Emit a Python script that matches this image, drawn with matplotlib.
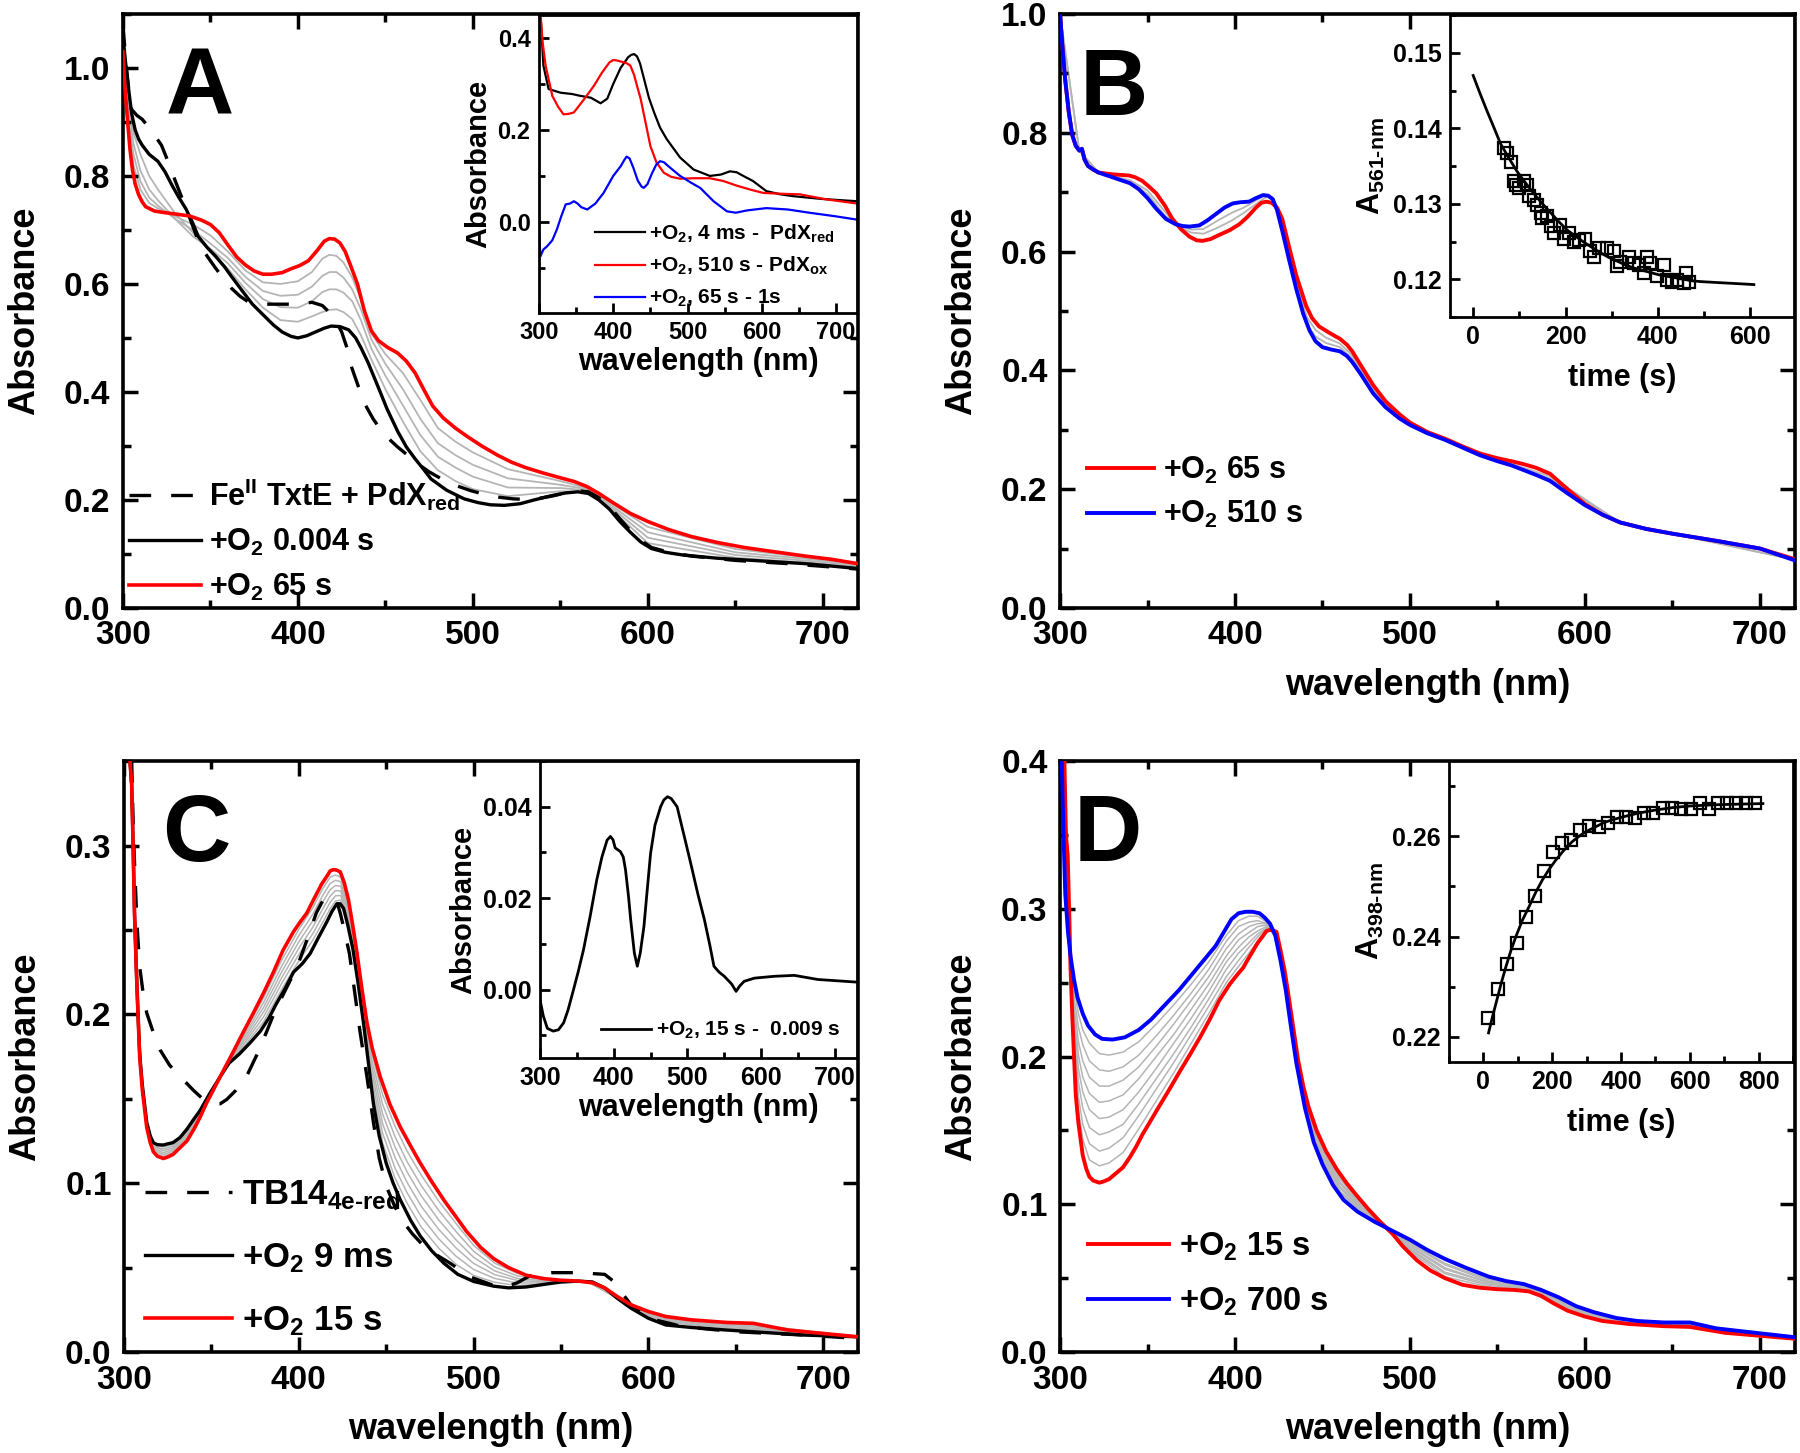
import numpy as np
import matplotlib.pyplot as plt
from matplotlib.ticker import MultipleLocator

plt.rcParams['font.family'] = ['Liberation Sans', 'DejaVu Sans']
plt.rcParams['font.weight'] = 'bold'
plt.rcParams['axes.labelweight'] = 'bold'
plt.rcParams['mathtext.fontset'] = 'custom'
plt.rcParams['mathtext.rm'] = 'Liberation Sans:bold'
plt.rcParams['mathtext.it'] = 'Liberation Sans:bold'
plt.rcParams['mathtext.bf'] = 'Liberation Sans:bold'
plt.rcParams['mathtext.default'] = 'regular'

# ---------------- panel A ----------------
A_dash_wl = [300, 302, 304, 305, 308, 311, 316, 322, 326, 330, 334, 338, 343, 348, 353, 358, 362, 367, 372, 381, 390,
             400, 408, 414, 419, 422, 425, 428, 430, 434, 438, 443, 448, 453, 457, 463, 468, 475, 482, 490, 499, 507,
             515, 523, 530, 538, 545, 553, 560, 566, 572, 578, 584, 590, 596, 602, 612, 625, 650, 680, 720]
A_dash = [1.08, 1.0, 0.94, 0.923, 0.912, 0.905, 0.885, 0.857, 0.825, 0.79, 0.757, 0.724, 0.68, 0.652, 0.629, 0.608,
          0.592, 0.577, 0.566, 0.5625, 0.5625, 0.5625, 0.566, 0.56, 0.544, 0.53, 0.511, 0.482, 0.452, 0.415, 0.379,
          0.35, 0.327, 0.31, 0.298, 0.282, 0.268, 0.252, 0.239, 0.227, 0.217, 0.21, 0.205, 0.202, 0.201, 0.203, 0.207,
          0.213, 0.217, 0.215, 0.204, 0.188, 0.165, 0.143, 0.125, 0.112, 0.103, 0.096, 0.088, 0.082, 0.072]
A_black_wl = [300, 301.5, 303, 305, 307, 309, 311, 315, 320, 324, 328, 332, 336, 340, 343, 348, 353, 358, 362, 368, 374,
              381, 386, 391, 396, 400, 405, 410, 415, 419, 424, 429, 433, 436, 440, 446, 451, 457, 462, 467, 472, 476,
              485, 495, 503, 510, 518, 527, 535, 545, 553, 560, 566, 572, 578, 584, 590, 596, 602, 610, 620, 640, 660,
              690, 720]
A_black = [1.06, 1.01, 0.967, 0.915, 0.885, 0.868, 0.857, 0.84, 0.827, 0.808, 0.783, 0.76, 0.739, 0.712, 0.688, 0.668,
           0.651, 0.632, 0.614, 0.588, 0.5625, 0.54, 0.524, 0.511, 0.503, 0.5, 0.504, 0.511, 0.518, 0.522, 0.521, 0.515,
           0.5, 0.482, 0.455, 0.408, 0.368, 0.327, 0.298, 0.276, 0.256, 0.239, 0.218, 0.202, 0.195, 0.191, 0.19, 0.193,
           0.2, 0.208, 0.213, 0.215, 0.212, 0.2, 0.183, 0.16, 0.14, 0.122, 0.11, 0.103, 0.098, 0.092, 0.088, 0.082,
           0.073]
A_red_wl = [300, 301, 302.5, 304, 305.5, 307, 309, 311, 313, 318, 324, 331, 338, 345, 350, 355, 360, 365, 370, 375, 380,
            385, 391, 396, 401, 406, 411, 415, 418, 421, 424, 427, 430, 434, 438, 442, 446, 451, 457, 462, 467, 472,
            477, 483, 490, 497, 505, 514, 522, 530, 540, 550, 558, 565, 572, 580, 590, 600, 612, 625, 640, 655, 670,
            690, 705, 720]
A_red = [1.03, 0.97, 0.908, 0.85, 0.81, 0.785, 0.765, 0.752, 0.743, 0.735, 0.732, 0.729, 0.726, 0.718, 0.71, 0.695,
         0.672, 0.65, 0.635, 0.624, 0.618, 0.618, 0.621, 0.628, 0.634, 0.643, 0.662, 0.679, 0.684, 0.683, 0.676, 0.66,
         0.635, 0.6, 0.55, 0.513, 0.495, 0.483, 0.472, 0.457, 0.435, 0.404, 0.374, 0.352, 0.333, 0.317, 0.3, 0.283,
         0.27, 0.26, 0.25, 0.241, 0.234, 0.225, 0.212, 0.195, 0.175, 0.16, 0.145, 0.132, 0.121, 0.112, 0.105, 0.096,
         0.09, 0.082]
# intermediate traces, one row per wavelength (4 traces)
A_grey_wl = [300, 303, 306, 310, 315, 320, 330, 340, 350, 360, 370, 380, 390, 400, 408, 414, 418, 422, 426, 431, 436,
             442, 450, 460, 470, 480, 490, 500, 520, 550, 565, 580, 600, 650, 700, 720]
A_grey_rows = [
    [1.05, 1.045, 1.04, 1.035], [0.95, 0.93, 0.91, 0.895], [0.88, 0.86, 0.84, 0.82], [0.84, 0.81, 0.79, 0.775],
    [0.8, 0.775, 0.76, 0.75], [0.775, 0.755, 0.745, 0.74], [0.73, 0.72, 0.72, 0.725], [0.695, 0.688, 0.7, 0.71],
    [0.66, 0.665, 0.675, 0.69], [0.628, 0.638, 0.648, 0.66], [0.59, 0.602, 0.613, 0.625], [0.556, 0.572, 0.587, 0.603],
    [0.533, 0.557, 0.578, 0.6], [0.53, 0.556, 0.58, 0.605], [0.54, 0.568, 0.595, 0.622], [0.548, 0.585, 0.615, 0.647],
    [0.552, 0.59, 0.622, 0.654], [0.553, 0.59, 0.622, 0.652], [0.548, 0.584, 0.612, 0.64], [0.535, 0.568, 0.59, 0.612],
    [0.505, 0.533, 0.553, 0.572], [0.46, 0.48, 0.497, 0.508], [0.405, 0.43, 0.452, 0.47], [0.345, 0.375, 0.405, 0.435],
    [0.29, 0.32, 0.35, 0.385], [0.255, 0.28, 0.305, 0.333], [0.235, 0.26, 0.283, 0.308], [0.22, 0.243, 0.265, 0.288],
    [0.207, 0.223, 0.24, 0.257], [0.216, 0.222, 0.228, 0.235], [0.215, 0.218, 0.22, 0.222], [0.18, 0.184, 0.188, 0.192],
    [0.12, 0.13, 0.14, 0.15], [0.093, 0.098, 0.103, 0.109], [0.082, 0.085, 0.088, 0.09], [0.075, 0.077, 0.079, 0.08],
]
# inset A (difference spectra)
Ai_black_wl = [300, 302, 306, 313, 329, 345, 356, 370, 383, 392, 400, 410, 420, 424, 428, 432, 436, 440, 448, 455, 463,
               472, 490, 508, 530, 545, 557, 566, 575, 588, 606, 625, 642, 680, 728]
Ai_black = [0.5, 0.456, 0.34, 0.289, 0.281, 0.278, 0.274, 0.27, 0.258, 0.268, 0.3, 0.335, 0.358, 0.363, 0.365, 0.36,
            0.345, 0.32, 0.27, 0.238, 0.205, 0.18, 0.14, 0.114, 0.1, 0.103, 0.11, 0.108, 0.1, 0.089, 0.067, 0.06, 0.056,
            0.05, 0.045]
Ai_red_wl = [300, 302, 305, 309, 318, 326, 333, 340, 347, 360, 374, 385, 395, 400, 405, 412, 418, 423, 428, 433, 437,
             443, 450, 458, 468, 478, 490, 510, 530, 548, 566, 585, 602, 630, 651, 687, 728]
Ai_red = [0.5, 0.456, 0.39, 0.34, 0.274, 0.25, 0.234, 0.235, 0.238, 0.265, 0.296, 0.325, 0.347, 0.352, 0.351, 0.348,
          0.345, 0.34, 0.32, 0.29, 0.267, 0.22, 0.165, 0.13, 0.107, 0.098, 0.094, 0.095, 0.095, 0.089, 0.079, 0.07,
          0.063, 0.061, 0.06, 0.049, 0.04]
Ai_blue_wl = [300, 302, 306, 311, 318, 324, 330, 336, 342, 347, 352, 357, 365, 376, 387, 400, 410, 415, 418, 422, 427,
              433, 438, 441, 446, 452, 458, 463, 468, 475, 490, 505, 517, 535, 553, 565, 580, 606, 635, 664, 700, 728]
Ai_blue = [-0.017, -0.075, -0.06, -0.053, -0.04, -0.017, 0.012, 0.038, 0.04, 0.045, 0.04, 0.032, 0.027, 0.04, 0.063,
           0.1, 0.121, 0.135, 0.142, 0.138, 0.118, 0.09, 0.077, 0.074, 0.082, 0.105, 0.125, 0.132, 0.13, 0.12, 0.1,
           0.085, 0.074, 0.045, 0.023, 0.02, 0.025, 0.03, 0.027, 0.02, 0.012, 0.005]

# ---------------- panel B ----------------
B_red_wl = [300, 301.5, 303, 305, 307, 309, 311, 312.5, 314, 316, 319, 322, 330, 339.5, 343, 347, 351, 355, 360, 364,
            369, 374, 378, 381.5, 386, 391, 397, 402.5, 407, 412, 415, 418, 421, 424, 427, 431, 435, 440.6, 444, 448,
            454, 460, 464, 467, 472, 479, 486, 494, 500, 510, 520, 530, 540, 550, 558, 565, 572, 580, 590, 600, 610,
            620, 635, 650, 675, 700, 720]
B_red = [1.0, 0.94, 0.888, 0.835, 0.796, 0.778, 0.77, 0.773, 0.755, 0.744, 0.738, 0.733, 0.73, 0.728, 0.725, 0.719,
         0.709, 0.698, 0.677, 0.656, 0.638, 0.625, 0.619, 0.618, 0.621, 0.628, 0.636, 0.646, 0.658, 0.674, 0.682,
         0.684, 0.682, 0.674, 0.655, 0.607, 0.56, 0.509, 0.488, 0.474, 0.463, 0.453, 0.443, 0.432, 0.408, 0.375,
         0.348, 0.326, 0.312, 0.296, 0.285, 0.272, 0.26, 0.252, 0.247, 0.242, 0.236, 0.226, 0.2, 0.175, 0.157, 0.144,
         0.133, 0.125, 0.113, 0.1, 0.082]
B_blue_wl = [300, 301.5, 303, 305, 307, 309, 311, 312.5, 314, 316, 319, 322, 330, 340, 345, 350, 355, 360.5, 366, 370,
             374, 379.6, 384, 389, 394, 398.7, 403, 408, 412, 416, 419, 421.6, 424, 427, 431, 435, 439, 442.6, 446, 450,
             455, 460, 464, 467, 472, 479, 486, 494, 500, 510, 520, 530, 540, 550, 558, 565, 572, 580, 590, 600, 610,
             620, 635, 650, 675, 700, 720]
B_blue = [1.0, 0.94, 0.888, 0.835, 0.796, 0.778, 0.77, 0.773, 0.755, 0.744, 0.738, 0.733, 0.725, 0.715, 0.705, 0.69,
          0.672, 0.655, 0.646, 0.643, 0.642, 0.644, 0.652, 0.663, 0.674, 0.681, 0.683, 0.684, 0.69, 0.695, 0.694,
          0.688, 0.67, 0.635, 0.585, 0.537, 0.495, 0.467, 0.449, 0.439, 0.435, 0.432, 0.424, 0.414, 0.393, 0.361,
          0.338, 0.319, 0.308, 0.294, 0.283, 0.27, 0.257, 0.247, 0.24, 0.232, 0.224, 0.214, 0.193, 0.173, 0.157,
          0.144, 0.133, 0.125, 0.113, 0.1, 0.08]
B_grey_wl = [300, 311, 322, 340, 350, 360, 368, 375, 382, 390, 398, 405, 412, 418, 422, 426, 431, 436, 441, 446, 452,
             460, 467, 475, 485, 500, 540, 580, 620, 720]
B_grey_rows = [
    [1.0, 1.0], [0.77, 0.77], [0.733, 0.733], [0.72, 0.718], [0.703, 0.697], [0.667, 0.66], [0.641, 0.643],
    [0.632, 0.637], [0.63, 0.638], [0.64, 0.652], [0.652, 0.665], [0.665, 0.674], [0.68, 0.686], [0.692, 0.696],
    [0.688, 0.69], [0.655, 0.65], [0.598, 0.592], [0.54, 0.534], [0.49, 0.478], [0.468, 0.457], [0.455, 0.446],
    [0.445, 0.439], [0.425, 0.42], [0.387, 0.382], [0.348, 0.345], [0.31, 0.309], [0.259, 0.258], [0.222, 0.218],
    [0.144, 0.144], [0.081, 0.081],
]
# inset B kinetics at 561 nm
Bi_t = [66, 74, 81, 88, 92, 99, 110, 117, 120, 131, 139, 146, 150, 160, 168, 175, 189, 196, 207, 218, 229, 243, 254,
        261, 272, 290, 305, 312, 319, 337, 348, 359, 370, 377, 384, 399, 413, 420, 431, 442, 456, 460, 467]
Bi_A = [0.1374, 0.1367, 0.1355, 0.133, 0.1325, 0.1321, 0.133, 0.1325, 0.131, 0.1305, 0.1299, 0.1288, 0.1281, 0.1284,
        0.127, 0.1261, 0.1272, 0.1254, 0.1261, 0.125, 0.1252, 0.1254, 0.1237, 0.123, 0.1241, 0.1241, 0.1237, 0.1217,
        0.1223, 0.123, 0.1221, 0.1219, 0.1208, 0.123, 0.1221, 0.1204, 0.1219, 0.1199, 0.1196, 0.1199, 0.1195, 0.1208,
        0.1197]
Bi_fit_t = [0, 15, 30, 45, 59, 77, 95, 113, 131, 150, 168, 186, 204, 222, 240, 258, 276, 294, 312, 330, 348, 366, 384,
            402, 420, 438, 456, 474, 492, 520, 550, 580, 608]
Bi_fit = [0.147, 0.1446, 0.1423, 0.1401, 0.138, 0.1361, 0.1343, 0.1328, 0.1314, 0.13, 0.1288, 0.1276, 0.1265, 0.1257,
          0.1249, 0.1242, 0.1235, 0.1229, 0.1224, 0.1219, 0.1215, 0.1212, 0.1209, 0.1206, 0.1204, 0.1202, 0.12,
          0.1198, 0.1197, 0.1196, 0.1195, 0.1194, 0.1193]

# ---------------- panel C ----------------
C_black_wl = [303.4, 304.4, 305.3, 306, 307, 308, 309, 310.5, 313, 315, 316.8, 319, 322.5, 325, 328, 332, 336, 340,
              343.5, 349, 355, 360, 366, 372, 378, 383, 387, 392, 397, 402, 406.5, 411, 416, 419, 421.8, 423.7, 425.6,
              428, 431, 434, 437, 440, 442.7, 446, 450, 454, 458, 464, 469.5, 476, 483, 491, 500, 511.5, 520, 530, 540,
              550, 560, 568, 575, 582, 590, 600, 610, 625, 645, 660, 690, 720]
C_black = [0.35, 0.336, 0.295, 0.26, 0.228, 0.2, 0.176, 0.158, 0.136, 0.128, 0.124, 0.1228, 0.1226, 0.1233, 0.124,
           0.127, 0.132, 0.138, 0.143, 0.153, 0.163, 0.171, 0.1765, 0.183, 0.19, 0.198, 0.206, 0.215, 0.225, 0.23,
           0.236, 0.245, 0.2547, 0.261, 0.2655, 0.2655, 0.2628, 0.253, 0.2385, 0.218, 0.195, 0.17, 0.147, 0.128,
           0.1119, 0.1, 0.0903, 0.078, 0.0687, 0.06, 0.0526, 0.046, 0.0418, 0.039, 0.038, 0.0385, 0.04, 0.0415, 0.042,
           0.0415, 0.038, 0.032, 0.026, 0.02, 0.016, 0.0145, 0.013, 0.012, 0.01, 0.009]
C_red_wl = [303.4, 304.4, 305.3, 306, 307, 308, 309, 310.5, 313, 315, 316.8, 319, 322.5, 325, 328, 332, 336, 340,
            343.5, 347, 351, 356, 362.6, 368, 374, 380, 385.5, 391, 397, 401, 404.6, 407, 410, 413, 416, 418, 419.8,
            421.5, 423.7, 426, 428.4, 430.5, 433, 436, 439, 442, 446.6, 452, 458, 464, 469.5, 476, 483, 490, 496, 504,
            511.5, 520, 530, 540, 550, 560, 568, 575, 582, 590, 600, 610, 625, 645, 660, 680, 700, 720]
C_red = [0.35, 0.336, 0.295, 0.26, 0.228, 0.2, 0.174, 0.155, 0.133, 0.124, 0.1186, 0.116, 0.1146, 0.1155, 0.117,
         0.121, 0.125, 0.132, 0.139, 0.147, 0.155, 0.165, 0.178, 0.189, 0.2008, 0.213, 0.225, 0.238, 0.249, 0.255,
         0.26, 0.265, 0.271, 0.277, 0.2817, 0.285, 0.2857, 0.2855, 0.2844, 0.278, 0.268, 0.255, 0.2385, 0.216, 0.195,
         0.18, 0.163, 0.147, 0.1334, 0.122, 0.1119, 0.101, 0.09, 0.08, 0.0714, 0.062, 0.0553, 0.05, 0.0455, 0.0435,
         0.0425, 0.042, 0.041, 0.038, 0.033, 0.028, 0.024, 0.021, 0.019, 0.0175, 0.017, 0.013, 0.011, 0.009]
C_dash_wl = [304.4, 305.3, 306.3, 307.5, 309, 311, 313, 316.5, 320.6, 326, 332, 336, 339.7, 345, 351, 355, 358.8, 364,
             370, 376, 381.7, 386, 391, 396, 400.8, 405, 410, 413, 416, 419.8, 422, 423.7, 426, 429, 432, 435, 439,
             442.7, 446, 450, 455, 460, 465, 471, 478, 486.6, 498, 510, 518, 525, 532, 545, 560, 575, 580, 585, 590,
             600, 620, 650, 690, 720]
C_dash = [0.35, 0.31, 0.2817, 0.252, 0.228, 0.212, 0.2008, 0.19, 0.179, 0.17, 0.163, 0.159, 0.155, 0.15, 0.147, 0.147,
          0.1496, 0.155, 0.163, 0.176, 0.19, 0.201, 0.2116, 0.222, 0.233, 0.245, 0.26, 0.266, 0.2695, 0.2695, 0.266,
          0.26, 0.25, 0.2358, 0.213, 0.19, 0.163, 0.136, 0.115, 0.0984, 0.086, 0.0768, 0.07, 0.0633, 0.058, 0.0526,
          0.0445, 0.04, 0.0385, 0.041, 0.045, 0.047, 0.047, 0.046, 0.042, 0.035, 0.028, 0.02, 0.015, 0.012, 0.01,
          0.008]
C_grey_wl = [303.4, 305.3, 308, 310.5, 313, 316.8, 322.5, 328, 336, 343.5, 351, 360, 370, 380, 390, 400, 408, 414,
             418, 421, 424, 428, 432, 437, 442, 448, 455, 462, 470, 480, 490, 500, 512, 525, 545, 565, 580, 600, 630,
             660, 720]
C_grey_rows = [
    [0.35] * 6, [0.295] * 6, [0.2] * 6,
    [0.158, 0.157, 0.157, 0.156, 0.156, 0.155], [0.136, 0.135, 0.135, 0.134, 0.134, 0.133],
    [0.123, 0.122, 0.122, 0.121, 0.12, 0.119], [0.1215, 0.1203, 0.1192, 0.118, 0.1169, 0.1158],
    [0.123, 0.122, 0.121, 0.12, 0.119, 0.118], [0.131, 0.13, 0.129, 0.128, 0.127, 0.126],
    [0.1424, 0.1419, 0.1413, 0.1407, 0.1401, 0.1396], [0.156, 0.156, 0.1555, 0.1555, 0.155, 0.155],
    [0.1713, 0.1716, 0.1719, 0.1721, 0.1724, 0.1727], [0.1827, 0.1844, 0.1861, 0.1879, 0.1896, 0.1913],
    [0.1959, 0.1987, 0.2016, 0.2044, 0.2073, 0.2101], [0.2144, 0.2179, 0.2213, 0.2247, 0.2281, 0.2316],
    [0.2317, 0.2354, 0.2391, 0.2429, 0.2466, 0.2503], [0.2439, 0.2477, 0.2516, 0.2554, 0.2593, 0.2631],
    [0.255, 0.259, 0.263, 0.267, 0.271, 0.275], [0.2627, 0.2664, 0.2701, 0.2739, 0.2776, 0.2813],
    [0.2671, 0.2702, 0.2733, 0.2763, 0.2794, 0.2825], [0.2677, 0.2704, 0.2731, 0.2759, 0.2786, 0.2813],
    [0.2551, 0.2573, 0.2594, 0.2616, 0.2637, 0.2659], [0.2321, 0.2343, 0.2364, 0.2386, 0.2407, 0.2429],
    [0.1964, 0.1979, 0.1993, 0.2007, 0.2021, 0.2036], [0.1569, 0.1607, 0.1646, 0.1684, 0.1723, 0.1761],
    [0.1237, 0.1294, 0.1351, 0.1409, 0.1466, 0.1523], [0.1031, 0.1091, 0.1154, 0.1216, 0.1277, 0.1339],
    [0.0881, 0.0943, 0.1004, 0.1066, 0.1127, 0.1189], [0.0741, 0.0803, 0.0864, 0.0926, 0.0987, 0.1049],
    [0.0616, 0.0671, 0.0727, 0.0783, 0.0839, 0.0894], [0.0519, 0.0567, 0.0616, 0.0664, 0.0713, 0.0761],
    [0.0454, 0.0489, 0.0525, 0.0561, 0.0597, 0.0632], [0.0413, 0.0436, 0.0459, 0.0481, 0.0504, 0.0527],
    [0.0394, 0.0409, 0.0424, 0.0436, 0.0451, 0.0466], [0.0404, 0.0409, 0.0413, 0.0417, 0.0421, 0.0426],
    [0.042, 0.042, 0.042, 0.0418, 0.0417, 0.0416], [0.0331, 0.0333, 0.0334, 0.0336, 0.0337, 0.0339],
    [0.0206, 0.0211, 0.0217, 0.0223, 0.0229, 0.0234], [0.0146, 0.0153, 0.016, 0.0166, 0.0172, 0.0179],
    [0.0127, 0.0134, 0.0141, 0.0149, 0.0156, 0.0163], [0.009] * 6,
]
# inset C difference spectrum
Ci_wl = [300, 304.5, 310, 318, 325, 332, 338, 345.5, 352, 359, 368, 377, 384, 391, 395.5, 399, 402, 409, 413, 416,
         420, 423, 428, 432, 436, 441, 445, 450, 456, 463.6, 468, 473, 478, 486, 495, 504.5, 514, 523, 530, 536, 543,
         550, 560, 566, 571, 577, 591, 618, 645, 677, 732]
Ci_A = [-0.0022, -0.0058, -0.0085, -0.0091, -0.0088, -0.0073, -0.0045, 0.0, 0.004, 0.0087, 0.016, 0.024, 0.029,
        0.0327, 0.0335, 0.0328, 0.031, 0.0302, 0.029, 0.0262, 0.0205, 0.0153, 0.008, 0.0051, 0.008, 0.0138, 0.021,
        0.0298, 0.036, 0.04, 0.0415, 0.0422, 0.0418, 0.04, 0.034, 0.0276, 0.021, 0.0153, 0.01, 0.0051, 0.0038, 0.0029,
        0.0012, -0.0004, 0.0008, 0.0018, 0.0025, 0.0029, 0.0031, 0.0022, 0.0016]

# ---------------- panel D ----------------
D_red_wl = [301.5, 302.5, 303.4, 304.4, 305.3, 306, 307, 308, 309, 310.5, 313, 315, 316.8, 319, 322.5, 325, 328, 332,
            336, 340, 343.5, 347, 351, 356, 362.6, 368, 374, 380, 385.5, 391, 397, 401, 404.6, 407, 410, 413, 416,
            418, 419.8, 421.5, 423.7, 426, 428.4, 430.5, 433, 436, 439, 442, 446.6, 452, 458, 464, 469.5, 476, 483,
            490, 496, 504, 511.5, 520, 530, 540, 550, 560, 568, 575, 582, 590, 600, 610, 625, 645, 660, 680, 700, 720]
D_red = [0.45, 0.4, 0.35, 0.336, 0.295, 0.26, 0.228, 0.2, 0.174, 0.155, 0.133, 0.124, 0.1186, 0.116, 0.1146, 0.1155,
         0.117, 0.121, 0.125, 0.132, 0.139, 0.147, 0.155, 0.165, 0.178, 0.189, 0.2008, 0.213, 0.225, 0.238, 0.249,
         0.255, 0.26, 0.265, 0.271, 0.277, 0.2817, 0.285, 0.2857, 0.2855, 0.2844, 0.272, 0.258, 0.242, 0.222, 0.198,
         0.18, 0.166, 0.15, 0.136, 0.124, 0.114, 0.106, 0.097, 0.088, 0.08, 0.0714, 0.062, 0.0553, 0.05, 0.0455,
         0.0435, 0.0425, 0.042, 0.041, 0.038, 0.033, 0.028, 0.024, 0.021, 0.019, 0.0175, 0.017, 0.013, 0.011, 0.009]
D_blue_wl = [300, 301, 302, 303, 304.5, 306, 308, 310, 313, 316, 320, 324, 330, 337, 345, 352, 360, 368, 375, 382, 389,
             394, 398, 402, 406, 410, 414, 417, 420, 423, 426, 429, 432, 435, 440, 445, 450, 456, 462, 470, 480, 490,
             500, 510, 520, 532, 545, 555, 565, 575, 585, 595, 605, 618, 630, 645, 660, 675, 690, 705, 720]
D_blue = [0.44, 0.4, 0.35, 0.31, 0.285, 0.268, 0.252, 0.24, 0.229, 0.221, 0.215, 0.212, 0.2115, 0.213, 0.218, 0.225,
          0.235, 0.245, 0.255, 0.265, 0.275, 0.285, 0.293, 0.297, 0.298, 0.298, 0.297, 0.294, 0.29, 0.282, 0.265,
          0.245, 0.22, 0.196, 0.165, 0.142, 0.127, 0.113, 0.103, 0.095, 0.088, 0.082, 0.076, 0.069, 0.063, 0.057,
          0.051, 0.048, 0.046, 0.042, 0.037, 0.031, 0.027, 0.023, 0.021, 0.02, 0.02, 0.016, 0.014, 0.012, 0.01]
D_grey_wl = [301, 303, 305.3, 308, 310.5, 313, 316.8, 322.5, 328, 336, 345, 355, 365, 375, 385, 395, 402, 408, 413,
             418, 421, 424, 428, 432, 437, 442, 450, 460, 470, 485, 500, 520, 545, 565, 585, 605, 630, 660, 690, 720]
D_grey_rows = [
    [0.45] * 8,
    [0.363, 0.357, 0.35, 0.343, 0.337, 0.33, 0.323, 0.317], [0.293, 0.291, 0.289, 0.287, 0.284, 0.282, 0.28, 0.278],
    [0.206, 0.212, 0.217, 0.223, 0.229, 0.235, 0.24, 0.246], [0.164, 0.173, 0.183, 0.192, 0.201, 0.21, 0.22, 0.229],
    [0.144, 0.154, 0.165, 0.176, 0.186, 0.197, 0.208, 0.218], [0.13, 0.141, 0.152, 0.164, 0.175, 0.186, 0.197, 0.209],
    [0.126, 0.136, 0.147, 0.158, 0.169, 0.18, 0.191, 0.202], [0.128, 0.138, 0.149, 0.159, 0.17, 0.18, 0.19, 0.201],
    [0.135, 0.145, 0.154, 0.164, 0.174, 0.184, 0.193, 0.203], [0.151, 0.16, 0.168, 0.176, 0.185, 0.193, 0.201, 0.21],
    [0.17, 0.178, 0.185, 0.192, 0.2, 0.207, 0.214, 0.222], [0.189, 0.196, 0.202, 0.209, 0.215, 0.222, 0.228, 0.235],
    [0.209, 0.215, 0.22, 0.226, 0.232, 0.238, 0.243, 0.249], [0.229, 0.234, 0.239, 0.244, 0.249, 0.254, 0.259, 0.264],
    [0.25, 0.254, 0.259, 0.264, 0.268, 0.273, 0.278, 0.282], [0.261, 0.265, 0.27, 0.274, 0.279, 0.283, 0.288, 0.292],
    [0.27, 0.274, 0.277, 0.281, 0.284, 0.288, 0.291, 0.295], [0.278, 0.281, 0.283, 0.285, 0.288, 0.29, 0.292, 0.295],
    [0.286, 0.287, 0.287, 0.288, 0.289, 0.29, 0.29, 0.291],
    [0.2854, 0.2852, 0.285, 0.2849, 0.2847, 0.2845, 0.2843, 0.2842],
    [0.283, 0.282, 0.282, 0.281, 0.281, 0.28, 0.28, 0.279], [0.259, 0.258, 0.257, 0.256, 0.255, 0.254, 0.253, 0.253],
    [0.229, 0.228, 0.227, 0.226, 0.225, 0.224, 0.223, 0.222], [0.191, 0.19, 0.189, 0.188, 0.188, 0.187, 0.186, 0.185],
    [0.165, 0.164, 0.163, 0.162, 0.161, 0.16, 0.159, 0.158], [0.139, 0.137, 0.136, 0.134, 0.133, 0.131, 0.13, 0.128],
    [0.118, 0.117, 0.115, 0.114, 0.112, 0.111, 0.109, 0.108], [0.104, 0.103, 0.102, 0.101, 0.1, 0.099, 0.098, 0.097],
    [0.087, 0.087, 0.086, 0.086, 0.086, 0.086, 0.085, 0.085], [0.068, 0.069, 0.07, 0.071, 0.072, 0.073, 0.074, 0.075],
    [0.051, 0.053, 0.054, 0.056, 0.057, 0.059, 0.06, 0.062], [0.044, 0.045, 0.046, 0.047, 0.047, 0.048, 0.049, 0.05],
    [0.042, 0.0425, 0.043, 0.0435, 0.044, 0.0445, 0.045, 0.0455], [0.032, 0.032, 0.033, 0.034, 0.034, 0.035, 0.035, 0.036],
    [0.023, 0.0235, 0.024, 0.0245, 0.025, 0.0255, 0.026, 0.0265],
    [0.0188, 0.019, 0.0193, 0.0196, 0.0199, 0.0201, 0.0204, 0.0207],
    [0.0173, 0.0177, 0.018, 0.0183, 0.0187, 0.019, 0.0193, 0.0197],
    [0.012, 0.0125, 0.0127, 0.013, 0.0132, 0.0134, 0.0136, 0.0138], [0.0095] * 8,
]
# inset D kinetics at 398 nm
Di_t = [12.5, 41, 70, 97, 123, 150, 176, 202, 229, 255, 280, 306.5, 335, 362, 388, 415, 441, 468, 494, 521, 547.5, 574,
        603, 629, 656, 682, 709, 735, 762, 790]
Di_A = [0.2238, 0.2295, 0.2346, 0.2388, 0.2438, 0.2481, 0.2531, 0.2568, 0.2587, 0.2593, 0.2612, 0.262, 0.2619, 0.2627,
        0.2638, 0.2638, 0.2636, 0.2646, 0.2646, 0.2657, 0.2657, 0.2655, 0.2655, 0.2666, 0.2655, 0.2666, 0.2666,
        0.2666, 0.2666, 0.2666]
Di_fit_t = [15, 26, 37, 51, 65.5, 80, 94.5, 113, 133, 152, 171.6, 190, 210, 234, 258, 282, 306.5, 330, 350, 376, 403,
            450, 499, 550, 596, 650, 692, 750, 812.5]
Di_fit = [0.2208, 0.2239, 0.2268, 0.2305, 0.234, 0.2372, 0.24, 0.2432, 0.246, 0.2488, 0.2513, 0.2533, 0.2552, 0.2572,
          0.2589, 0.2602, 0.2612, 0.262, 0.2627, 0.2633, 0.2638, 0.2646, 0.2652, 0.2657, 0.266, 0.2662, 0.2663,
          0.2664, 0.2665]

GREY = '#b5b5b5'
DASH = (0, (6.5, 6.0))


def style(ax, xlim, ylim, xmaj, xmin, ymaj, ymin, lsize, inset=False):
    ax.set_xlim(*xlim)
    ax.set_ylim(*ylim)
    ax.xaxis.set_major_locator(MultipleLocator(xmaj))
    ax.xaxis.set_minor_locator(MultipleLocator(xmin))
    ax.yaxis.set_major_locator(MultipleLocator(ymaj))
    ax.yaxis.set_minor_locator(MultipleLocator(ymin))
    if inset:
        ax.tick_params(which='both', direction='in', width=2, labelsize=lsize, pad=6)
        ax.tick_params(which='major', length=7)
        ax.tick_params(which='minor', length=4)
    else:
        ax.tick_params(which='both', direction='in', top=True, right=True, width=2.5, labelsize=lsize, pad=9)
        ax.tick_params(which='major', length=11)
        ax.tick_params(which='minor', length=6)
    for s in ax.spines.values():
        s.set_linewidth(2 if inset else 2.6)


fig = plt.figure(figsize=(18, 14.53), dpi=100)

axA = fig.add_axes([0.0683, 0.5816, 0.4083, 0.4088])
axB = fig.add_axes([0.5889, 0.5816, 0.4083, 0.4088])
axC = fig.add_axes([0.0689, 0.0695, 0.4078, 0.4067])
axD = fig.add_axes([0.5889, 0.0695, 0.4083, 0.4067])

# ---- A ----
for g in np.array(A_grey_rows).T:
    axA.plot(A_grey_wl, g, color=GREY, lw=1.3, zorder=1)
axA.plot(A_dash_wl, A_dash, color='black', lw=2.4, ls=DASH, label='Fe$^{II}$ TxtE + PdX$_{red}$', zorder=3)
axA.plot(A_black_wl, A_black, color='black', lw=2.4, label='+O$_2$ 0.004 s', zorder=3)
axA.plot(A_red_wl, A_red, color='#ff0000', lw=2.6, label='+O$_2$ 65 s', zorder=4)
style(axA, (300, 720), (0, 1.1), 100, 50, 0.2, 0.1, 24)
axA.set_ylabel('Absorbance', fontsize=26, labelpad=16)
axA.legend(loc='lower left', bbox_to_anchor=(-0.008, -0.012), frameon=False, fontsize=22, handlelength=2.35,
           handletextpad=0.25, labelspacing=0.45, borderaxespad=0)
axA.text(0.058, 0.83, 'A', transform=axA.transAxes, fontsize=68, fontweight='bold')

iA = fig.add_axes([0.2994, 0.7846, 0.1767, 0.2051])
iA.plot(Ai_black_wl, Ai_black, color='black', lw=1.6, label='+O$_2$, 4 ms -  PdX$_{red}$')
iA.plot(Ai_red_wl, Ai_red, color='#ff0000', lw=1.6, label='+O$_2$, 510 s - PdX$_{ox}$')
iA.plot(Ai_blue_wl, Ai_blue, color='#0000ff', lw=1.6, label='+O$_2$, 65 s - 1s')
style(iA, (300, 728), (-0.198, 0.45), 100, 50, 0.2, 0.1, 17, inset=True)
iA.set_ylabel('Absorbance', fontsize=21, labelpad=4)
iA.set_xlabel('wavelength (nm)', fontsize=22, labelpad=2)
iA.legend(loc='lower right', bbox_to_anchor=(0.955, -0.015), frameon=False, fontsize=15, handlelength=2.4,
          handletextpad=0.2, labelspacing=0.5, borderaxespad=0)

# ---- B ----
for g in np.array(B_grey_rows).T:
    axB.plot(B_grey_wl, g, color=GREY, lw=1.3, zorder=1)
axB.plot(B_red_wl, B_red, color='#ff0000', lw=2.8, label='+O$_2$ 65 s', zorder=3)
axB.plot(B_blue_wl, B_blue, color='#0000ff', lw=2.8, label='+O$_2$ 510 s', zorder=4)
style(axB, (300, 720), (0, 1.0), 100, 50, 0.2, 0.1, 24)
axB.set_ylabel('Absorbance', fontsize=26, labelpad=16)
axB.set_xlabel('wavelength (nm)', fontsize=26, labelpad=12)
axB.legend(loc='lower left', bbox_to_anchor=(0.02, 0.11), frameon=False, fontsize=22, handlelength=2.2,
           handletextpad=0.3, labelspacing=0.45, borderaxespad=0)
axB.text(0.026, 0.83, 'B', transform=axB.transAxes, fontsize=68, fontweight='bold')

iB = fig.add_axes([0.8056, 0.7818, 0.1911, 0.2078])
iB.plot(Bi_fit_t, Bi_fit, color='black', lw=2)
iB.plot(Bi_t, Bi_A, ls='none', marker='s', ms=9, mfc='none', mec='black', mew=1.6)
style(iB, (-50, 695), (0.115, 0.155), 200, 100, 0.01, 0.005, 18, inset=True)
iB.set_ylabel('A$_{561\\text{-}nm}$', fontsize=22, labelpad=4)
iB.set_xlabel('time (s)', fontsize=22, labelpad=10)

# ---- C ----
for g in np.array(C_grey_rows).T:
    axC.plot(C_grey_wl, g, color=GREY, lw=1.1, zorder=1)
axC.plot(C_dash_wl, C_dash, color='black', lw=2.4, ls=DASH, label='TB14$_{4e\\text{-}red}$', zorder=3)
axC.plot(C_black_wl, C_black, color='black', lw=2.4, label='+O$_2$ 9 ms', zorder=3)
axC.plot(C_red_wl, C_red, color='#ff0000', lw=2.6, label='+O$_2$ 15 s', zorder=4)
style(axC, (300, 720), (0, 0.35), 100, 50, 0.1, 0.05, 24)
axC.set_ylabel('Absorbance', fontsize=26, labelpad=16)
axC.set_xlabel('wavelength (nm)', fontsize=26, labelpad=12)
axC.legend(loc='lower left', bbox_to_anchor=(0.0, -0.012), frameon=False, fontsize=25, handlelength=2.5,
           handletextpad=0.3, labelspacing=0.85, borderaxespad=0.2)
axC.text(0.052, 0.831, 'C', transform=axC.transAxes, fontsize=68, fontweight='bold')

iC = fig.add_axes([0.3, 0.2718, 0.1761, 0.2044])
iC.plot(Ci_wl, Ci_A, color='black', lw=2, label='+O$_2$, 15 s -  0.009 s')
style(iC, (300, 730), (-0.015, 0.05), 100, 50, 0.02, 0.01, 18, inset=True)
iC.set_ylabel('Absorbance', fontsize=21, labelpad=4)
iC.set_xlabel('wavelength (nm)', fontsize=22, labelpad=2)
iC.legend(loc='lower right', frameon=False, fontsize=15, handlelength=2.4, handletextpad=0.2, borderaxespad=0.4)

# ---- D ----
for g in np.array(D_grey_rows).T:
    axD.plot(D_grey_wl, g, color=GREY, lw=1.1, zorder=1)
axD.plot(D_red_wl, D_red, color='#ff0000', lw=2.8, label='+O$_2$ 15 s', zorder=3)
axD.plot(D_blue_wl, D_blue, color='#0000ff', lw=2.8, label='+O$_2$ 700 s', zorder=4)
style(axD, (300, 720), (0, 0.4), 100, 50, 0.1, 0.05, 24)
axD.set_ylabel('Absorbance', fontsize=26, labelpad=16)
axD.set_xlabel('wavelength (nm)', fontsize=26, labelpad=12)
axD.legend(loc='lower left', bbox_to_anchor=(0.02, 0.035), frameon=False, fontsize=23.5, handlelength=2.5,
           handletextpad=0.3, labelspacing=0.7, borderaxespad=0)
axD.text(0.018, 0.831, 'D', transform=axD.transAxes, fontsize=68, fontweight='bold')

iD = fig.add_axes([0.805, 0.2691, 0.1911, 0.2072])
iD.plot(Di_fit_t, Di_fit, color='black', lw=2)
iD.plot(Di_t, Di_A, ls='none', marker='s', ms=9, mfc='none', mec='black', mew=1.6)
style(iD, (-100, 900), (0.215, 0.275), 200, 100, 0.02, 0.01, 18, inset=True)
iD.set_ylabel('A$_{398\\text{-}nm}$', fontsize=22, labelpad=4)
iD.set_xlabel('time (s)', fontsize=22, labelpad=10)

fig.savefig('out.png', dpi=100)
